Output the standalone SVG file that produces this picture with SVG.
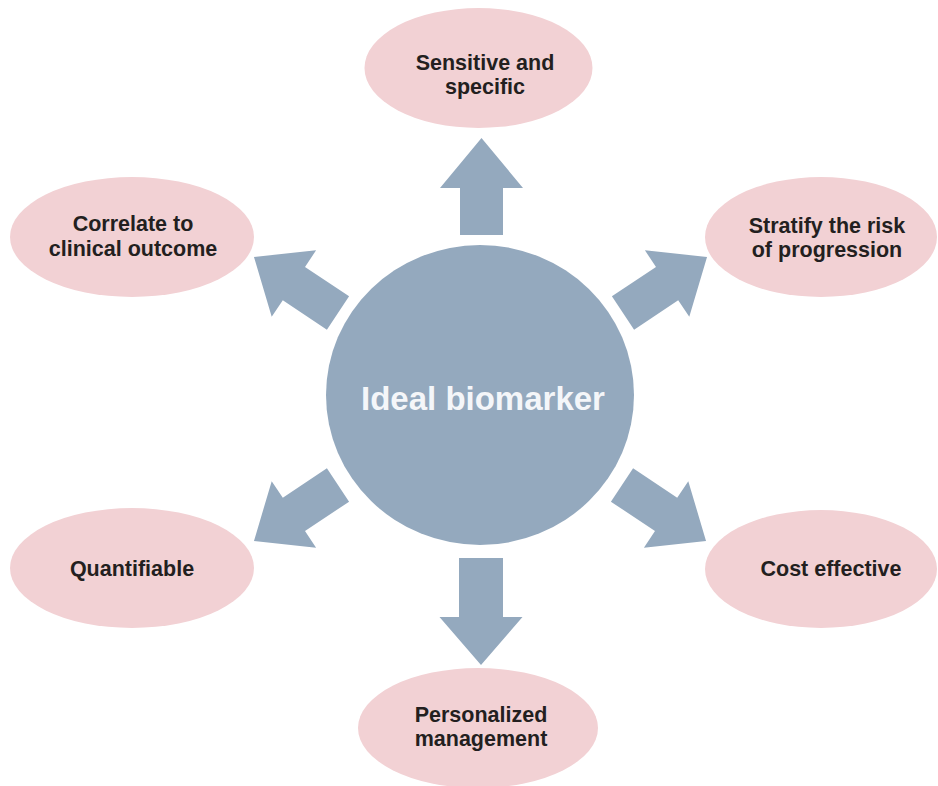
<svg xmlns="http://www.w3.org/2000/svg" width="938" height="786" viewBox="0 0 938 786">
<style>
.bg{fill:#ffffff}
.pink{fill:#f2d1d4}
.hub{fill:#94a9be}
.arrow{fill:#94a9be}
.lbl{font-family:"Liberation Sans",Arial,sans-serif;font-weight:bold;font-size:21.5px;fill:#231f20;text-anchor:middle}
.hubtxt{font-family:"Liberation Sans",Arial,sans-serif;font-weight:bold;font-size:33px;fill:#f4f6f9;text-anchor:middle}
</style>
<rect class="bg" x="0" y="0" width="938" height="786"/>
<g id="connectors">
<polygon class="arrow" transform="translate(481.5,235) rotate(-90)" points="0,-21.5 47,-21.5 47,-41.5 97,0 47,41.5 47,21.5 0,21.5"/>
<polygon class="arrow" transform="translate(481,558) rotate(90)" points="0,-22 59,-22 59,-41.5 107,0 59,41.5 59,22 0,22"/>
<polygon class="arrow" transform="translate(623,313) rotate(-33.7)" points="0,-20 53,-20 53,-40 101,0 53,40 53,20 0,20"/>
<polygon class="arrow" transform="translate(338,313) rotate(-146.3)" points="0,-20 53,-20 53,-40 101,0 53,40 53,20 0,20"/>
<polygon class="arrow" transform="translate(338,485) rotate(146.3)" points="0,-20 53,-20 53,-40 101,0 53,40 53,20 0,20"/>
<polygon class="arrow" transform="translate(622,485) rotate(33.7)" points="0,-20 53,-20 53,-40 101,0 53,40 53,20 0,20"/>
</g>
<g id="hub">
<ellipse class="hub" cx="480" cy="395" rx="154" ry="150"/>
<text class="hubtxt" x="483" y="410">Ideal biomarker</text>
</g>
<g id="sensitive">
<ellipse class="pink" cx="478.5" cy="68" rx="114" ry="60"/>
<text class="lbl" x="485" y="70">Sensitive and</text>
<text class="lbl" x="485" y="94">specific</text>
</g>
<g id="stratify">
<ellipse class="pink" cx="821" cy="237" rx="116" ry="60"/>
<text class="lbl" x="827" y="233">Stratify the risk</text>
<text class="lbl" x="827" y="257">of progression</text>
</g>
<g id="correlate">
<ellipse class="pink" cx="132" cy="237" rx="122" ry="60"/>
<text class="lbl" x="133" y="231">Correlate to</text>
<text class="lbl" x="133" y="256">clinical outcome</text>
</g>
<g id="quantifiable">
<ellipse class="pink" cx="132" cy="568" rx="122" ry="60"/>
<text class="lbl" x="132" y="576">Quantifiable</text>
</g>
<g id="cost">
<ellipse class="pink" cx="821" cy="569" rx="116" ry="59"/>
<text class="lbl" x="831" y="576">Cost effective</text>
</g>
<g id="personalized">
<ellipse class="pink" cx="478" cy="728" rx="120" ry="60"/>
<text class="lbl" x="481" y="722">Personalized</text>
<text class="lbl" x="481" y="746">management</text>
</g>
</svg>
